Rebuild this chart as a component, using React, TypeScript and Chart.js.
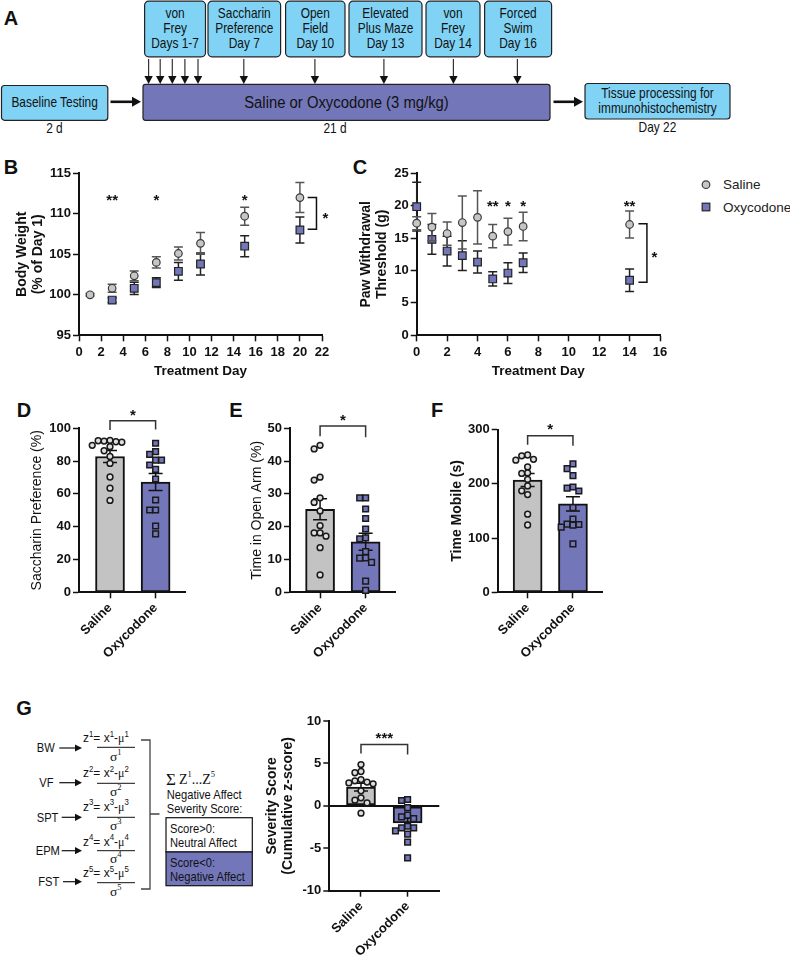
import React, { useEffect, useRef } from 'react';
import { Chart, registerables } from 'chart.js';

Chart.register(...registerables);

const FONT = '"Liberation Sans", Arial, Helvetica, sans-serif';
const SERIF = '"Liberation Serif", "Times New Roman", serif';
Chart.defaults.font.family = FONT;
Chart.defaults.color = '#111';

const GRAY = '#c3c3c3';
const PURPLE = '#7377b9';
const BLUE = '#80d3f5';

// ---------------- DATA ----------------
const groupLabels = ['Saline', 'Oxycodone'];

// B: body weight (% of day 1)
const bwDays = [1, 3, 5, 7, 9, 11, 15, 20];
const bwSalineMean = [100.0, 100.8, 102.35, 104.0, 105.1, 106.35, 109.7, 112.0];
const bwSalineSem = [0.15, 0.5, 0.6, 0.7, 0.8, 1.35, 1.1, 1.85];
const bwOxyMean = [null, 99.35, 100.8, 101.5, 102.9, 103.8, 106.0, 108.0];
const bwOxySem = [0, 0.3, 0.75, 0.6, 1.1, 1.35, 1.3, 1.6];
const bwSigDays = [3, 7, 15];
const bwSigLabels = ['**', '*', '*'];

// C: von Frey paw withdrawal threshold (g)
const vfDays = [0, 1, 2, 3, 4, 5, 6, 7, 14];
const vfSalineMean = [17.3, 16.7, 15.7, 17.4, 18.2, 15.3, 16.0, 16.8, 17.1];
const vfSalineSem = [1.0, 2.1, 1.8, 4.1, 4.1, 1.8, 2.05, 2.2, 2.1];
const vfOxyMean = [19.85, 14.8, 13.0, 12.3, 11.3, 8.7, 9.6, 11.2, 8.5];
const vfOxySem = [3.75, 2.3, 2.3, 2.3, 1.7, 1.1, 1.6, 1.5, 1.75];
const vfSigDays = [5, 6, 7, 14];
const vfSigLabels = ['**', '*', '*', '**'];

// D: saccharin preference (%)
const sptSaline = [92.6, 92.2, 91.8, 92.4, 91.5, 89.6, 88.8, 86.3, 82.8, 78.6, 70.3, 63.5, 56.0];
const sptOxy = [90.9, 85.8, 84.1, 80.6, 80.6, 77.6, 75.0, 69.1, 56.3, 50.2, 50.2, 40.4, 35.6];
const sptMean = [82.8, 67.2];
const sptSem = [3.7, 5.2];

// E: time in open arm (%)
const epmSaline = [44.8, 43.7, 35.1, 34.2, 28.8, 27.4, 24.8, 20.3, 18.1, 18.1, 17.1, 13.6, 5.3];
const epmOxy = [28.8, 28.8, 25.4, 22.5, 19.3, 16.6, 16.3, 12.4, 10.5, 10.4, 9.1, 3.4, 0.6];
const epmMean = [25.3, 15.4];
const epmSem = [3.2, 2.6];

// F: time mobile (s)
const ofSaline = [253, 251.5, 245, 243.5, 231, 220, 219, 208, 196, 187, 180, 144, 124];
const ofOxy = [236.6, 228, 215, 194, 192, 186.7, 156, 135, 125.7, 125, 123.8, 120, 89.3];
const ofMean = [207, 163];
const ofSem = [12, 13];

// G: severity score (cumulative z-score)
const sevSaline = [4.87, 4.05, 3.9, 3.1, 2.95, 2.8, 2.7, 2.6, 1.77, 0.94, 0.67, 0.35, -0.86];
const sevOxy = [0.75, 0.63, -0.2, -1.1, -1.3, -1.5, -2.4, -2.6, -2.6, -2.95, -3.34, -4.28, -6.13];
const sevMean = [2.2, -2.0];
const sevSem = [0.45, 0.55];

// ---------------- helpers ----------------
type Box = { x: number; y: number; w: number; h: number };
type Area = { l: number; t: number; r: number; b: number };

const Y_LH = 1.15;
const Y_TITLE_SIZE = 14;
const X_TITLE_SIZE = 13.5;

function frame(box: Box, area: Area, yTitleX: number, xTitleY: number | null) {
  return {
    box,
    padding: { top: area.t - box.y, right: box.x + box.w - area.r, bottom: 0, left: 0 },
    yW: area.l - box.x,
    xH: box.y + box.h - area.b,
    yTitlePad: yTitleX - box.x - (Y_TITLE_SIZE * Y_LH) / 2,
    xTitlePad: xTitleY == null ? 0 : box.y + box.h - xTitleY - (X_TITLE_SIZE * Y_LH) / 2,
  };
}

function swarm(values: number[], tolY: number, step: number): number[] {
  const placed: { x: number; y: number }[] = [];
  return values.map((v) => {
    for (let k = 0; k < 40; k++) {
      const off = k === 0 ? 0 : (k % 2 === 1 ? -1 : 1) * Math.ceil(k / 2) * step;
      const ok = placed.every((p) => {
        const dx = (p.x - off) / step;
        const dy = (p.y - v) / tolY;
        return dx * dx + dy * dy >= 0.95;
      });
      if (ok) {
        placed.push({ x: off, y: v });
        return off;
      }
    }
    return 0;
  });
}

function drawErr(chart: any, index: number, phase: string) {
  const ds = chart.data.datasets[index];
  if (!ds || !ds.errorBars || (ds.errorPhase || 'before') !== phase) return;
  const xs = chart.scales.x;
  const ys = chart.scales.y;
  const ctx = chart.ctx;
  ctx.save();
  ctx.strokeStyle = ds.errorColor || '#111';
  ctx.lineWidth = ds.errorWidth || 1.5;
  ds.data.forEach((p: any, i: number) => {
    const e = ds.errorBars[i];
    if (p == null || p.y == null || !e) return;
    const px = xs.getPixelForValue(p.x);
    const y1 = ys.getPixelForValue(p.y + e);
    const y2 = ys.getPixelForValue(p.y - e);
    const c = ds.errorCap || 4.5;
    ctx.beginPath();
    ctx.moveTo(px, y1);
    ctx.lineTo(px, y2);
    ctx.moveTo(px - c, y1);
    ctx.lineTo(px + c, y1);
    ctx.moveTo(px - c, y2);
    ctx.lineTo(px + c, y2);
    ctx.stroke();
  });
  ctx.restore();
}

const errorBarPlugin = {
  id: 'errbars',
  beforeDatasetDraw(chart: any, args: any) {
    drawErr(chart, args.index, 'before');
  },
  afterDatasetDraw(chart: any, args: any) {
    drawErr(chart, args.index, 'after');
  },
};
Chart.register(errorBarPlugin as any);

type Txt = { x: number; y: number; t: string; size?: number };

function annotPlugin(lines: number[][][], texts: Txt[], color = '#111') {
  return {
    id: 'annot',
    afterDraw(chart: any) {
      const { ctx } = chart;
      const xs = chart.scales.x;
      const ys = chart.scales.y;
      ctx.save();
      ctx.strokeStyle = color;
      ctx.lineWidth = 1.5;
      lines.forEach((pl) => {
        ctx.beginPath();
        pl.forEach(([x, y], i) => {
          const px = xs.getPixelForValue(x);
          const py = ys.getPixelForValue(y);
          if (i) ctx.lineTo(px, py);
          else ctx.moveTo(px, py);
        });
        ctx.stroke();
      });
      texts.forEach((tx) => {
        const size = tx.size || 15;
        ctx.font = `bold ${size}px ${FONT}`;
        ctx.fillStyle = '#111';
        ctx.textAlign = 'center';
        ctx.textBaseline = 'alphabetic';
        ctx.fillText(tx.t, xs.getPixelForValue(tx.x), ys.getPixelForValue(tx.y) + 0.58 * size);
      });
      ctx.restore();
    },
  };
}

const TICK_FONT = { size: 13, weight: 'bold' as const };
const GRID = {
  display: true,
  drawOnChartArea: false,
  drawTicks: true,
  tickLength: 6,
  tickWidth: 1.5,
  tickColor: '#111',
  color: '#111',
  offset: false,
};
const BORDER = { display: true, color: '#111', width: 2 };

function yTitle(text: string | string[], pad: number, bold: boolean) {
  return {
    display: true,
    text,
    color: '#111',
    font: { size: Y_TITLE_SIZE, weight: bold ? 'bold' : 'normal', lineHeight: Y_LH },
    padding: { top: pad, bottom: 0 },
  };
}

function timeCourseConfig(o: any) {
  const f = o.frame;
  return {
    type: 'scatter',
    data: {
      datasets: [
        {
          data: o.days.map((d: number, i: number) => ({ x: d, y: o.sal[i] })),
          pointStyle: 'circle',
          pointRadius: 3.8,
          backgroundColor: '#c6c6c6',
          borderColor: '#3a3a3a',
          borderWidth: 1.2,
          errorBars: o.salErr,
          errorColor: '#555',
          errorCap: 4.5,
          errorWidth: 1.5,
          clip: false,
        },
        {
          data: o.days.map((d: number, i: number) => ({ x: d, y: o.oxy[i] })),
          pointStyle: 'rect',
          pointRadius: 5.4,
          backgroundColor: PURPLE,
          borderColor: '#222',
          borderWidth: 1.2,
          errorBars: o.oxyErr,
          errorColor: '#222',
          errorCap: 4.5,
          errorWidth: 1.5,
          clip: false,
        },
      ],
    },
    options: {
      animation: false,
      responsive: false,
      events: [],
      layout: { padding: f.padding },
      plugins: { legend: { display: false }, tooltip: { enabled: false } },
      scales: {
        x: {
          type: 'linear',
          min: 0,
          max: o.xMax,
          offset: false,
          ticks: { stepSize: 2, font: TICK_FONT, color: '#111', padding: 3, maxRotation: 0, autoSkip: false },
          grid: GRID,
          border: BORDER,
          title: {
            display: true,
            text: 'Treatment Day',
            color: '#111',
            font: { size: X_TITLE_SIZE, weight: 'bold', lineHeight: Y_LH },
            padding: { top: 0, bottom: f.xTitlePad },
          },
          afterFit: (s: any) => {
            s.height = f.xH;
          },
        },
        y: {
          type: 'linear',
          min: o.yMin,
          max: o.yMax,
          ticks: { stepSize: o.yStep, font: TICK_FONT, color: '#111', padding: 2 },
          grid: GRID,
          border: BORDER,
          title: yTitle(o.yTitle, f.yTitlePad, true),
          afterFit: (s: any) => {
            s.width = f.yW;
          },
        },
      },
    },
    plugins: [annotPlugin(o.lines, o.texts)],
  };
}

function barConfig(o: any) {
  const f = o.frame;
  const step = 0.13;
  const offS = swarm(o.sal, o.tolY, step);
  const offO = swarm(o.oxy, o.tolY, step);
  const yGrid = o.zeroLine
    ? {
        ...GRID,
        drawOnChartArea: true,
        lineWidth: 2,
        color: (ctx: any) => (ctx.tick && ctx.tick.value === 0 ? '#111' : 'rgba(0,0,0,0)'),
      }
    : GRID;
  return {
    type: 'bar',
    data: {
      datasets: [
        {
          type: 'scatter',
          order: 0,
          data: o.sal.map((v: number, i: number) => ({ x: 0 + offS[i], y: v })),
          pointStyle: 'circle',
          pointRadius: 2.9,
          backgroundColor: '#dedede',
          borderColor: '#1a1a1a',
          borderWidth: 1.5,
          clip: false,
        },
        {
          type: 'scatter',
          order: 0,
          data: o.oxy.map((v: number, i: number) => ({ x: 1 + offO[i], y: v })),
          pointStyle: 'rect',
          pointRadius: 4,
          backgroundColor: PURPLE,
          borderColor: '#1a1a1a',
          borderWidth: 1.5,
          clip: false,
        },
        {
          type: 'bar',
          order: 1,
          data: o.mean.map((m: number, i: number) => ({ x: i, y: m })),
          backgroundColor: [GRAY, PURPLE],
          borderColor: '#111',
          borderWidth: 2,
          borderSkipped: false,
          barThickness: 29,
          errorBars: o.sem,
          errorColor: '#111',
          errorCap: 7,
          errorWidth: 1.5,
          errorPhase: 'after',
        },
      ],
    },
    options: {
      animation: false,
      responsive: false,
      events: [],
      layout: { padding: f.padding },
      plugins: { legend: { display: false }, tooltip: { enabled: false } },
      scales: {
        x: {
          type: 'linear',
          min: o.xMin,
          max: o.xMax,
          offset: false,
          afterBuildTicks: (s: any) => {
            s.ticks = [{ value: 0 }, { value: 1 }];
          },
          ticks: {
            callback: (v: number) => groupLabels[v] ?? '',
            font: TICK_FONT,
            color: '#111',
            padding: 2,
            minRotation: 45,
            maxRotation: 45,
            autoSkip: false,
          },
          grid: GRID,
          border: BORDER,
          afterFit: (s: any) => {
            s.height = f.xH;
          },
        },
        y: {
          type: 'linear',
          min: o.yMin,
          max: o.yMax,
          ticks: { stepSize: o.yStep, font: TICK_FONT, color: '#111', padding: 2 },
          grid: yGrid,
          border: BORDER,
          title: yTitle(o.yTitle, f.yTitlePad, o.yBold),
          afterFit: (s: any) => {
            s.width = f.yW;
          },
        },
      },
    },
    plugins: [annotPlugin(o.lines, o.texts, '#333')],
  };
}

function sigBracket(top: number, legL: number, legR: number) {
  return [
    [0, legL],
    [0, top],
    [1, top],
    [1, legR],
  ];
}

// ---------------- chart frames ----------------
const fB = frame({ x: 0, y: 160, w: 345, h: 225 }, { l: 79, t: 173.3, r: 322, b: 335.3 }, 21.7, 371);
const fC = frame({ x: 355, y: 160, w: 325, h: 225 }, { l: 416.7, t: 173.3, r: 660, b: 335.3 }, 366.5, 371);
const fD = frame({ x: 10, y: 395, w: 200, h: 275 }, { l: 79, t: 428.3, r: 185.7, b: 592.3 }, 37, null);
const fE = frame({ x: 240, y: 395, w: 175, h: 275 }, { l: 290, t: 428.3, r: 395.7, b: 592.3 }, 257, null);
const fF = frame({ x: 440, y: 395, w: 185, h: 275 }, { l: 497.7, t: 429.5, r: 602.7, b: 592.3 }, 457.5, null);
const fG = frame({ x: 255, y: 700, w: 205, h: 259 }, { l: 329.3, t: 721, r: 439.3, b: 890.7 }, 271.7, null);

const makeB = () =>
  timeCourseConfig({
    frame: fB,
    xMax: 22,
    yMin: 95,
    yMax: 115,
    yStep: 5,
    yTitle: ['Body Weight', '(% of Day 1)'],
    days: bwDays,
    sal: bwSalineMean,
    salErr: bwSalineSem,
    oxy: bwOxyMean,
    oxyErr: bwOxySem,
    lines: [
      [
        [20.7, 112],
        [21.5, 112],
        [21.5, 108.1],
        [20.7, 108.1],
      ],
    ],
    texts: [
      ...bwSigDays.map((d, i) => ({ x: d, y: 112.2, t: bwSigLabels[i] })),
      { x: 22.3, y: 110, t: '*' },
    ],
  });

const makeC = () =>
  timeCourseConfig({
    frame: fC,
    xMax: 16,
    yMin: 0,
    yMax: 25,
    yStep: 5,
    yTitle: ['Paw Withdrawal', 'Threshold (g)'],
    days: vfDays,
    sal: vfSalineMean,
    salErr: vfSalineSem,
    oxy: vfOxyMean,
    oxyErr: vfOxySem,
    lines: [
      [
        [14.58, 17.2],
        [15.14, 17.2],
        [15.14, 8.2],
        [14.58, 8.2],
      ],
    ],
    texts: [
      ...vfSigDays.map((d, i) => ({ x: d, y: 20.5, t: vfSigLabels[i] })),
      { x: 15.64, y: 12.65, t: '*' },
    ],
  });

const makeD = () =>
  barConfig({
    frame: fD,
    xMin: -0.68,
    xMax: 1.66,
    yMin: 0,
    yMax: 100,
    yStep: 20,
    yTitle: 'Saccharin Preference (%)',
    yBold: false,
    sal: sptSaline,
    oxy: sptOxy,
    mean: sptMean,
    sem: sptSem,
    tolY: 3.6,
    lines: [sigBracket(104.6, 99, 99.3)],
    texts: [{ x: 0.5, y: 110.3, t: '*' }],
  });

const makeE = () =>
  barConfig({
    frame: fE,
    xMin: -0.66,
    xMax: 1.66,
    yMin: 0,
    yMax: 50,
    yStep: 10,
    yTitle: 'Time in Open Arm (%)',
    yBold: false,
    sal: epmSaline,
    oxy: epmOxy,
    mean: epmMean,
    sem: epmSem,
    tolY: 1.8,
    lines: [sigBracket(50.7, 47.6, 47.3)],
    texts: [{ x: 0.5, y: 53.75, t: '*' }],
  });

const makeF = () =>
  barConfig({
    frame: fF,
    xMin: -0.66,
    xMax: 1.656,
    yMin: 0,
    yMax: 300,
    yStep: 100,
    yTitle: 'Time Mobile (s)',
    yBold: true,
    sal: ofSaline,
    oxy: ofOxy,
    mean: ofMean,
    sem: ofSem,
    tolY: 11,
    lines: [sigBracket(288.6, 272, 270.2)],
    texts: [{ x: 0.5, y: 308, t: '*' }],
  });

const makeG = () =>
  barConfig({
    frame: fG,
    xMin: -0.68,
    xMax: 1.68,
    yMin: -10,
    yMax: 10,
    yStep: 5,
    yTitle: ['Severity Score', '(Cumulative z-score)'],
    yBold: true,
    sal: sevSaline,
    oxy: sevOxy,
    mean: sevMean,
    sem: sevSem,
    tolY: 0.7,
    zeroLine: true,
    lines: [sigBracket(7.24, 6.18, 6.05)],
    texts: [{ x: 0.5, y: 8.45, t: '***' }],
  });

function ChartBox({ f, make }: { f: any; make: () => any }) {
  const ref = useRef<HTMLCanvasElement>(null);
  useEffect(() => {
    const c = new Chart(ref.current as HTMLCanvasElement, make());
    return () => c.destroy();
  }, []);
  const b = f.box;
  return (
    <canvas
      ref={ref}
      width={b.w}
      height={b.h}
      style={{ position: 'absolute', left: b.x, top: b.y, width: b.w, height: b.h }}
    />
  );
}

// ---------------- schematic pieces (SVG) ----------------
function NText({ x, y, children, size = 14, sx = 0.85, anchor = 'middle', weight = 'normal', family = FONT }: any) {
  return (
    <text
      transform={`translate(${x} ${y}) scale(${sx} 1)`}
      x={0}
      y={0}
      fontSize={size}
      textAnchor={anchor}
      dominantBaseline="central"
      fontFamily={family}
      fontWeight={weight}
      fill="#111"
    >
      {children}
    </text>
  );
}

const topBoxes = [
  { x1: 144.6, x2: 205.5, lines: ['von', 'Frey', 'Days 1-7'] },
  { x1: 208, x2: 280.6, lines: ['Saccharin', 'Preference', 'Day 7'] },
  { x1: 285.6, x2: 345, lines: ['Open', 'Field', 'Day 10'] },
  { x1: 349, x2: 422, lines: ['Elevated', 'Plus Maze', 'Day 13'] },
  { x1: 426, x2: 480, lines: ['von', 'Frey', 'Day 14'] },
  { x1: 484.6, x2: 551.6, lines: ['Forced', 'Swim', 'Day 16'] },
];
const arrowXs = [148.6, 160.2, 172.3, 184.9, 198, 243.8, 314.9, 383.9, 453.4, 517.4];

function DownArrow({ x }: { x: number }) {
  return (
    <g>
      <line x1={x} y1={59} x2={x} y2={77} stroke="#333" strokeWidth={1.2} />
      <polygon points={`${x - 4.2},76 ${x + 4.2},76 ${x},84`} fill="#111" />
    </g>
  );
}

function BigArrow({ x1, x2, y }: { x1: number; x2: number; y: number }) {
  return (
    <g>
      <line x1={x1} y1={y} x2={x2 - 7} y2={y} stroke="#111" strokeWidth={2.6} />
      <polygon points={`${x2 - 9},${y - 5} ${x2 - 9},${y + 5} ${x2},${y}`} fill="#111" />
    </g>
  );
}

function PanelA() {
  return (
    <g>
      {topBoxes.map((b, i) => (
        <g key={i}>
          <rect x={b.x1} y={1.2} width={b.x2 - b.x1} height={55.6} rx={4} fill={BLUE} stroke="#222" strokeWidth={1.2} />
          {b.lines.map((l, j) => (
            <NText key={j} x={(b.x1 + b.x2) / 2} y={13.6 + j * 14.8}>
              {l}
            </NText>
          ))}
        </g>
      ))}
      {arrowXs.map((x, i) => (
        <DownArrow key={i} x={x} />
      ))}
      <rect x={1.5} y={85.5} width={106.3} height={34.8} rx={3} fill={BLUE} stroke="#222" strokeWidth={1.2} />
      <NText x={54.6} y={102.5}>Baseline Testing</NText>
      <BigArrow x1={110.5} x2={141} y={101.8} />
      <rect x={143} y={84.3} width={407} height={36} rx={2.5} fill={PURPLE} stroke="#222" strokeWidth={1.2} />
      <NText x={346.5} y={102.2} size={16.5} sx={0.9}>
        Saline or Oxycodone (3 mg/kg)
      </NText>
      <BigArrow x1={553.5} x2={583} y={101.8} />
      <rect x={585} y={83.5} width={145} height={35.5} rx={3} fill={BLUE} stroke="#222" strokeWidth={1.2} />
      <NText x={657.5} y={93.5}>Tissue processing for</NText>
      <NText x={657.5} y={108}>immunohistochemistry</NText>
      <NText x={54.4} y={128}>2 d</NText>
      <NText x={335} y={128}>21 d</NText>
      <NText x={657.4} y={127.5}>Day 22</NText>
    </g>
  );
}

const gRows = [
  { label: 'BW', lx: 36.7, ly: 748, ax: 59.3, i: '1', top: 738.3, bar: 747.3, sig: 756.7 },
  { label: 'VF', lx: 39.3, ly: 782.7, ax: 59.3, i: '2', top: 773.3, bar: 783.3, sig: 791 },
  { label: 'SPT', lx: 36.7, ly: 817.3, ax: 61.7, i: '3', top: 806.7, bar: 817.3, sig: 825 },
  { label: 'EPM', lx: 35.7, ly: 850.7, ax: 61.7, i: '4', top: 841.7, bar: 850.7, sig: 858.3 },
  { label: 'FST', lx: 38.3, ly: 881.7, ax: 63, i: '5', top: 873.3, bar: 882.7, sig: 891 },
];

function PanelGSchematic() {
  return (
    <g>
      {gRows.map((r, k) => (
        <g key={k}>
          <NText x={r.lx} y={r.ly} size={13} sx={0.86} anchor="start">
            {r.label}
          </NText>
          <line x1={r.ax} y1={r.ly} x2={76} y2={r.ly} stroke="#111" strokeWidth={1.2} />
          <polygon points={`${75},${r.ly - 3.6} ${75},${r.ly + 3.6} ${82},${r.ly}`} fill="#111" />
          <text
            transform={`translate(83 ${r.top}) scale(0.92 1)`}
            fontSize={13}
            fontFamily={FONT}
            dominantBaseline="central"
            fill="#111"
          >
            z<tspan dy={-4.5} fontSize={8.5}>{r.i}</tspan>
            <tspan dy={4.5}>= x</tspan>
            <tspan dy={-4.5} fontSize={8.5}>{r.i}</tspan>
            <tspan dy={4.5}>-</tspan>
            <tspan fontFamily={SERIF}>μ</tspan>
            <tspan dy={-4.5} fontSize={8.5}>{r.i}</tspan>
          </text>
          <line x1={97} y1={r.bar} x2={135} y2={r.bar} stroke="#111" strokeWidth={1} />
          <text
            transform={`translate(110 ${r.sig})`}
            fontSize={13.5}
            fontFamily={SERIF}
            dominantBaseline="central"
            fill="#111"
          >
            σ<tspan dy={-4.5} fontSize={8.5}>{r.i}</tspan>
          </text>
        </g>
      ))}
      <path d="M141 740 H150 V889 H141 M150 814 H159.5" fill="none" stroke="#444" strokeWidth={1.3} />
      <text x={166} y={779} fontSize={17} fontFamily={SERIF} dominantBaseline="central" fill="#111">
        Σ
        <tspan fontSize={14} dx={3}>Z</tspan>
        <tspan fontSize={8.5} dy={-5}>1</tspan>
        <tspan fontSize={14} dy={5}>...Z</tspan>
        <tspan fontSize={8.5} dy={-5}>5</tspan>
      </text>
      <NText x={166.7} y={795} size={13} sx={0.86} anchor="start">
        Negative Affect
      </NText>
      <NText x={166.7} y={809} size={13} sx={0.86} anchor="start">
        Severity Score:
      </NText>
      <rect x={166} y={817.7} width={86.3} height={34.3} fill="#fff" stroke="#111" strokeWidth={1.2} />
      <rect x={166} y={852} width={86.3} height={33.7} fill={PURPLE} stroke="#111" strokeWidth={1.2} />
      <NText x={170} y={829} size={13} sx={0.86} anchor="start">
        Score&gt;0:
      </NText>
      <NText x={170} y={842.3} size={13} sx={0.86} anchor="start">
        Neutral Affect
      </NText>
      <NText x={170} y={863} size={13} sx={0.86} anchor="start">
        Score&lt;0:
      </NText>
      <NText x={170} y={876.3} size={13} sx={0.86} anchor="start">
        Negative Affect
      </NText>
    </g>
  );
}

function Legend() {
  return (
    <g>
      <circle cx={706} cy={184.7} r={3.8} fill="#c6c6c6" stroke="#3a3a3a" strokeWidth={1.2} />
      <rect x={702.2} y={203.2} width={7.6} height={7.6} fill={PURPLE} stroke="#222" strokeWidth={1.2} />
      <text x={723} y={184.7} fontSize={13.5} fontFamily={FONT} dominantBaseline="central" fill="#222">
        Saline
      </text>
      <text x={723} y={207} fontSize={13.5} fontFamily={FONT} dominantBaseline="central" fill="#222">
        Oxycodone
      </text>
    </g>
  );
}

const panelLetters = [
  { t: 'A', x: 11, y: 18 },
  { t: 'B', x: 11, y: 167 },
  { t: 'C', x: 360, y: 167 },
  { t: 'D', x: 24, y: 410 },
  { t: 'E', x: 236, y: 410 },
  { t: 'F', x: 437, y: 410 },
  { t: 'G', x: 24, y: 708 },
];

export default function App() {
  return (
    <div
      style={{
        position: 'absolute',
        left: 0,
        top: 0,
        width: 790,
        height: 959,
        background: '#fff',
        overflow: 'hidden',
        fontFamily: FONT,
      }}
    >
      <svg width={790} height={959} style={{ position: 'absolute', left: 0, top: 0 }}>
        <PanelA />
        <PanelGSchematic />
        <Legend />
        {panelLetters.map((l) => (
          <text
            key={l.t}
            x={l.x}
            y={l.y}
            fontSize={20}
            fontWeight="bold"
            fontFamily={FONT}
            textAnchor="middle"
            dominantBaseline="central"
            fill="#111"
          >
            {l.t}
          </text>
        ))}
      </svg>
      <ChartBox f={fB} make={makeB} />
      <ChartBox f={fC} make={makeC} />
      <ChartBox f={fD} make={makeD} />
      <ChartBox f={fE} make={makeE} />
      <ChartBox f={fF} make={makeF} />
      <ChartBox f={fG} make={makeG} />
    </div>
  );
}
